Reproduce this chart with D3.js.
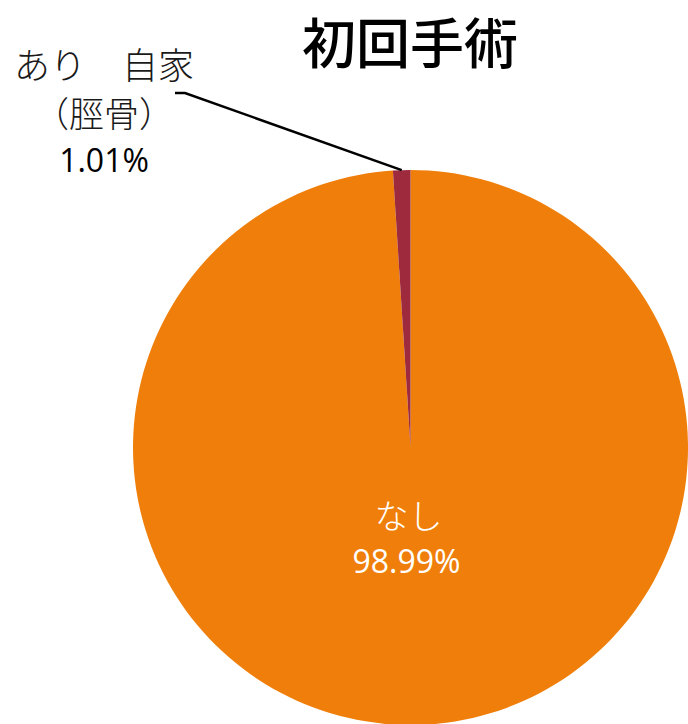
<!DOCTYPE html>
<html><head><meta charset="utf-8">
<script src="https://cdn.jsdelivr.net/npm/d3@7"></script>
<style>body{margin:0;background:#fff;}svg{display:block;}</style>
</head><body>
<script>
const categories = ["なし", "あり　自家（脛骨）"];
const values = [98.99, 1.01];
const valueLabels = ["98.99%", "1.01%"];
const colors = ["#EF7F0A", "#9E2A3D"];
const title = "初回手術";

const W = 688, H = 724;
const cx = 410.5, cy = 447.5, R = 277.5;
const svg = d3.select("body").append("svg").attr("width", W).attr("height", H);

svg.append("text").attr("x", 410).attr("y", 64).attr("text-anchor", "middle")
  .attr("font-family", "Noto Sans CJK JP").attr("font-weight", 500).attr("font-size", 54)
  .attr("fill", "#000").text(title);

const pie = d3.pie().sort(null).value(d => d)(values);
const arc = d3.arc().innerRadius(0).outerRadius(R);
const g = svg.append("g").attr("transform", `translate(${cx},${cy})`);
g.selectAll("path").data(pie).enter().append("path")
  .attr("d", arc).attr("fill", (d, i) => colors[i]);

const fontJ = "Noto Sans CJK JP";
g.append("text").attr("x", -2).attr("y", 81).attr("text-anchor", "middle")
  .attr("font-family", fontJ).attr("font-weight", 300).attr("font-size", 34).attr("fill", "#fff").text(categories[0]);
g.append("text").attr("x", -4).attr("y", 125).attr("text-anchor", "middle")
  .attr("font-family", "Open Sans, sans-serif").attr("font-size", 32).attr("fill", "#fff").text(valueLabels[0]);

// small slice leader line
const small = pie[1];
const mid = (small.startAngle + small.endAngle) / 2;
const px = cx + R * Math.sin(mid), py = cy - R * Math.cos(mid);
svg.append("polyline").attr("points", `${px},${py} 185,93 175,93`)
  .attr("fill", "none").attr("stroke", "#000").attr("stroke-width", 2.5);

const parts = categories[1].split("（");
const lx = 104;
svg.append("text").attr("x", lx).attr("y", 79).attr("text-anchor", "middle")
  .attr("font-family", fontJ).attr("font-weight", 300).attr("font-size", 36).attr("fill", "#1a1a1a").text(parts[0]);
svg.append("text").attr("x", lx).attr("y", 127).attr("text-anchor", "middle")
  .attr("font-family", fontJ).attr("font-weight", 300).attr("font-size", 35).attr("fill", "#1a1a1a").text("（" + parts[1]);
svg.append("text").attr("x", lx).attr("y", 172).attr("text-anchor", "middle")
  .attr("font-family", "Open Sans, sans-serif").attr("font-size", 32).attr("fill", "#000").text(valueLabels[1]);
</script>
</body></html>
